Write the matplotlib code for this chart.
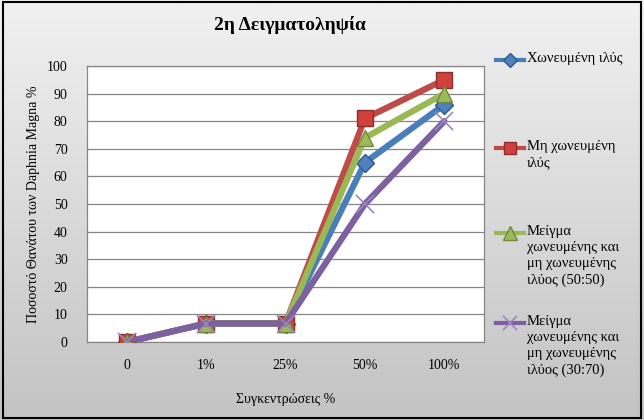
import numpy as np
import matplotlib
matplotlib.use("Agg")
import matplotlib.pyplot as plt
from matplotlib.lines import Line2D
from matplotlib.patches import Rectangle

plt.rcParams["font.family"] = ["Liberation Serif", "DejaVu Serif"]

# data
categories = ["0", "1%", "25%", "50%", "100%"]
digested = [0, 6.7, 6.7, 65, 86]
undigested = [0, 6.7, 6.7, 81, 95]
mix_50_50 = [0, 6.7, 6.7, 74, 90]
mix_30_70 = [0, 6.7, 6.7, 50, 80]
labels = [
    "Χωνευμένη ιλύς",
    "Μη χωνευμένη\nιλύς",
    "Μείγμα\nχωνευμένης και\nμη χωνευμένης\nιλύος (50:50)",
    "Μείγμα\nχωνευμένης και\nμη χωνευμένης\nιλύος (30:70)",
]

W, H = 644, 420
fig = plt.figure(figsize=(W / 100, H / 100), dpi=100)

# gradient background
bg = fig.add_axes([0, 0, 1, 1], zorder=-10)
grad = np.linspace(0, 1, 256).reshape(-1, 1)
cmap = matplotlib.colors.LinearSegmentedColormap.from_list("bg", ["#c3c3c3", "#f1f1f1"])
bg.imshow(grad, aspect="auto", cmap=cmap, origin="lower", extent=[0, 1, 0, 1])
bg.set_axis_off()
fig.add_artist(Rectangle((0.004, 0.005), 0.992, 0.99, transform=fig.transFigure,
                         fill=False, edgecolor="black", linewidth=1.5))

ax = fig.add_axes([87 / W, 1 - 342 / H, (484 - 87) / W, (342 - 66) / H])
ax.set_facecolor("white")

styles = [
    dict(color="#4a7ebb", marker="D", markersize=9, mfc="#4f81bd", mec="#2c5a8c"),
    dict(color="#be4b48", marker="s", markersize=11, mfc="#d0403c", mec="#8c2f2c"),
    dict(color="#98b954", marker="^", markersize=12, mfc="#9bbb59", mec="#71893f"),
    dict(color="#7d60a0", marker="x", markersize=13, mec="#9c86bc", mew=1.2),
]
series = [digested, undigested, mix_50_50, mix_30_70]
x = np.arange(len(categories))
for vals, st in zip(series, styles):
    ax.plot(x, vals, linewidth=4.5, solid_capstyle="round", solid_joinstyle="round",
            zorder=3, **st)

ax.set_xlim(-0.5, len(categories) - 0.5)
ax.set_ylim(0, 100)
ax.set_yticks(range(0, 101, 10))
ax.set_xticks(x)
ax.set_xticklabels(categories)
ax.tick_params(length=0, labelsize=10, colors="black")
ax.tick_params(axis="x", pad=12)
ax.tick_params(axis="y", pad=14)
ax.yaxis.grid(True, color="#868686", linewidth=0.9)
ax.set_axisbelow(True)
for s in ax.spines.values():
    s.set_color("#868686")
    s.set_linewidth(0.9)

ax.set_xlabel("Συγκεντρώσεις %", fontsize=10, labelpad=15)
ax.set_ylabel("Ποσοστό Θανάτου των Daphnia Magna %", fontsize=10, labelpad=5)
fig.text(290 / W, 1 - 25 / H, "2η Δειγματοληψία", ha="center", va="center",
         fontsize=14, fontweight="bold")

# legend, handles aligned with the first line of each label
legend_y = [60, 148, 233, 323]
for lab, st, yy in zip(labels, styles, legend_y):
    yf = 1 - yy / H
    fig.add_artist(Line2D([496 / W, 510 / W, 524 / W], [yf, yf, yf], transform=fig.transFigure,
                          linewidth=3, markevery=[1],
                          **{k: (v * 0.8 if k == "markersize" else v) for k, v in st.items()}))
    fig.text(527 / W, yf + 8 / H, lab, ha="left", va="top", fontsize=10.5, linespacing=1.3)

fig.savefig("out.png", dpi=100)
